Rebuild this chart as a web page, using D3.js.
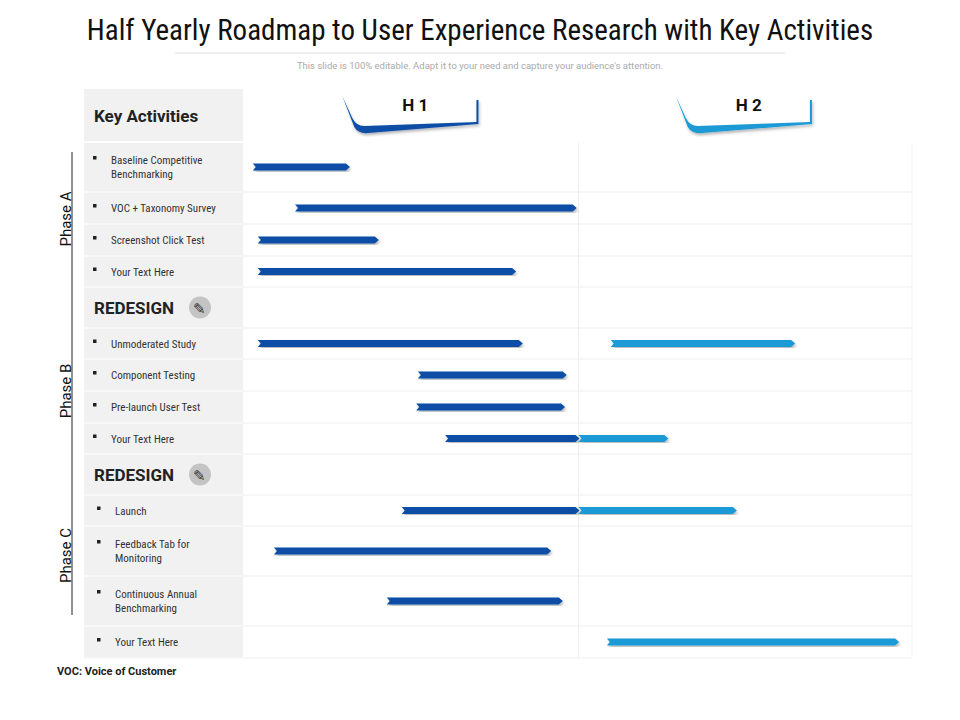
<!DOCTYPE html><html><head><meta charset="utf-8"><script src="https://cdn.jsdelivr.net/npm/d3@7"></script>
<style>body{margin:0;background:#fff;font-family:Roboto,"Liberation Sans",sans-serif}</style></head><body><svg id="c" width="960" height="720"></svg>
<script>
const activities=["Baseline Competitive\nBenchmarking","VOC + Taxonomy Survey","Screenshot Click Test","Your Text Here","REDESIGN","Unmoderated Study","Component Testing","Pre-launch User Test","Your Text Here","REDESIGN","Launch","Feedback Tab for\nMonitoring","Continuous Annual\nBenchmarking","Your Text Here"];
const rowTops=[143,193,225,257,288,329,360,392,424,455,496,527,577,627];
const rowBottoms=[191,223,255,286,327,358,390,422,453,494,525,575,625,657];
// bars: [row index, start month, end month, half]
const darkBars=[[0,0.14,1.87],[1,0.9,5.95],[2,0.23,2.39],[3,0.23,4.86],[5,0.23,4.98],[6,3.11,5.77],[7,3.08,5.74],[8,3.6,6.0],[10,2.82,6.0],[11,0.52,5.49],[12,2.55,5.7]];
const lightBars=[[5,6.58,9.88],[8,6.0,7.6],[10,6.0,8.83],[13,6.51,11.75]];
const halves=["H 1","H 2"];
const phases=[["Phase A",152,286],["Phase B",329,453],["Phase C",496,615]];
const DARK="#0d4ea6",LIGHT="#1a9ad6";
const svg=d3.select("#c");
const x=d3.scaleLinear().domain([0,12]).range([245,912]);
svg.append("text").attr("x",480).attr("y",40).attr("text-anchor","middle").attr("font-size",29).attr("fill","#111").attr("font-family","Roboto").style("font-stretch","condensed").text("Half Yearly Roadmap to User Experience Research with Key Activities");
svg.append("line").attr("x1",175).attr("x2",785).attr("y1",53).attr("y2",53).attr("stroke","#ddd");
svg.append("text").attr("x",480).attr("y",69).attr("text-anchor","middle").attr("font-size",9.5).attr("fill","#aaa").text("This slide is 100% editable. Adapt it to your need and capture your audience's attention.");
const defs=svg.append("defs");
defs.append("filter").attr("id","sh").append("feDropShadow").attr("dx",1).attr("dy",2).attr("stdDeviation",1.5).attr("flood-color","#000").attr("flood-opacity",0.3);
// header
svg.append("rect").attr("x",84).attr("y",89).attr("width",159).attr("height",52).attr("fill","#f1f1f1");
svg.append("text").attr("x",94).attr("y",122).attr("font-size",17).attr("font-weight","bold").attr("fill","#222").text("Key Activities");
// grid
svg.append("line").attr("x1",x(6)).attr("x2",x(6)).attr("y1",143).attr("y2",657).attr("stroke","#eee");
svg.append("line").attr("x1",x(12)).attr("x2",x(12)).attr("y1",143).attr("y2",657).attr("stroke","#f2f2f2");
activities.forEach((a,i)=>{
 const t=rowTops[i],b=rowBottoms[i];
 svg.append("rect").attr("x",84).attr("y",t).attr("width",159).attr("height",b-t).attr("fill","#f1f1f1");
 svg.append("line").attr("x1",84).attr("x2",912).attr("y1",b+1).attr("y2",b+1).attr("stroke","#efefef");
 const cy=(t+b)/2;
 if(a==="REDESIGN"){
  svg.append("text").attr("x",94).attr("y",cy+6).attr("font-size",17).attr("font-weight","bold").attr("fill","#222").text(a);
  svg.append("circle").attr("cx",200).attr("cy",cy).attr("r",11).attr("fill","#c4c4c4");
  svg.append("text").attr("x",193).attr("y",cy+6).attr("font-size",15).attr("fill","#333").text("✎");
 } else {
  const lines=a.split("\n");const tx=i>=10?115:111;
  svg.append("rect").attr("x",tx-18).attr("y",cy-(lines.length-1)*7-4).attr("width",3.5).attr("height",3.5).attr("fill","#222");
  lines.forEach((l,k)=>svg.append("text").attr("x",tx).attr("y",cy+4+(k-(lines.length-1)/2)*14).attr("font-size",11).attr("fill","#333").style("font-stretch","condensed").text(l));
 }
});
// halves header shapes
[[0,DARK],[1,LIGHT]].forEach(([h,col])=>{
 const x0=x(h*6+1.75),x1=x(h*6+4.2);
 svg.append("path").attr("d",`M${x0},${96} L${x0+12},${127} Q${x0+16},${134} ${x0+26},${133} L${x1},${124} L${x1},${100} L${x1-2},${100} L${x1-2},${122} L${x0+22},${126} Q${x0+14},${126} ${x0+10},${118} Z`).attr("fill",col).attr("filter","url(#sh)");
 svg.append("text").attr("x",(x0+x1)/2+5).attr("y",111).attr("text-anchor","middle").attr("font-size",17).attr("font-weight","bold").attr("fill","#111").text(halves[h]);
});
function bar(d,col){
 const [r,s,e]=d;const cy=(rowTops[r]+rowBottoms[r])/2;const x0=x(s),x1=x(e),h=3.5;
 svg.append("path").attr("d",`M${x0},${cy-h} L${x1-3},${cy-h} L${x1+1},${cy} L${x1-3},${cy+h} L${x0},${cy+h} L${x0+3},${cy} Z`).attr("fill",col).attr("filter","url(#sh)");
}
darkBars.forEach(d=>bar(d,DARK));lightBars.forEach(d=>bar(d,LIGHT));
// phases
svg.append("line").attr("x1",72).attr("x2",72).attr("y1",152).attr("y2",615).attr("stroke","#222");
phases.forEach(([p,a,b])=>{const cy=(a+b)/2;svg.append("text").attr("transform",`translate(71,${cy}) rotate(-90)`).attr("text-anchor","middle").attr("font-size",15).attr("fill","#111").text(p);});
svg.append("text").attr("x",57).attr("y",675).attr("font-size",11).attr("font-weight","bold").attr("fill","#222").text("VOC:  Voice of Customer");
</script></body></html>
